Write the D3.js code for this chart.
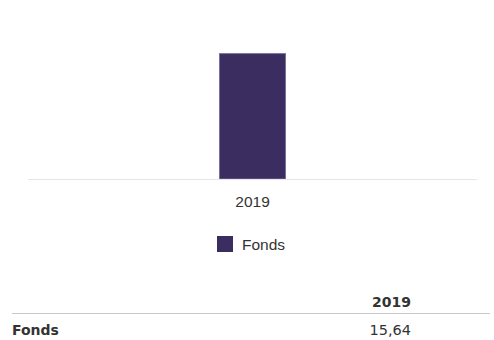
<!DOCTYPE html>
<html>
<head>
<meta charset="utf-8">
<script src="https://cdn.jsdelivr.net/npm/d3@7"></script>
<style>
  html, body { margin: 0; padding: 0; background: #fff; }
  svg { display: block; }
</style>
</head>
<body>
<div id="chart"></div>
<script>
// Chart data
const categories = ["2019"];
const seriesNames = ["Fonds"];
const fondsValues = [15.64];
const yDomain = [0, 20];

const W = 494, H = 340;
const barColor = "#3b2d5f";
const textColor = "#333333";
const fmt = v => d3.format(".2f")(v).replace(".", ",");

const svg = d3.select("#chart").append("svg")
  .attr("width", W).attr("height", H);

const plot = { left: 28, right: 477, top: 18, bottom: 179 };

const x = d3.scaleBand()
  .domain(categories)
  .range([plot.left, plot.right])
  .paddingInner(0)
  .paddingOuter(2.85);

const y = d3.scaleLinear().domain(yDomain).range([plot.bottom, plot.top]);

// Bars
svg.append("g").selectAll("rect")
  .data(categories.map((c, i) => ({ c, v: fondsValues[i] })))
  .join("rect")
  .attr("x", d => x(d.c) + 0.5)
  .attr("y", d => y(d.v) + 0.5)
  .attr("width", x.bandwidth() - 1)
  .attr("height", d => y(0) - y(d.v) - 0.5)
  .attr("fill", barColor)
  .attr("stroke", "#7b6fa0")
  .attr("stroke-width", 1);

// Category axis (baseline + labels)
const xAxis = svg.append("g")
  .attr("transform", `translate(0,${plot.bottom})`)
  .call(d3.axisBottom(x).tickSize(0).tickPadding(0));
xAxis.select(".domain").attr("stroke", "#e6e6e6").attr("stroke-width", 1)
  .attr("d", `M${plot.left},0.5H${plot.right}`);
xAxis.selectAll("text")
  .attr("dy", null)
  .attr("y", 28)
  .attr("fill", textColor)
  .style("font-family", "'Liberation Sans', Arial, sans-serif")
  .style("font-size", "15.5px");

// Legend
const legend = svg.append("g").attr("transform", "translate(217,236)");
seriesNames.forEach((name, i) => {
  legend.append("rect").attr("x", 0).attr("y", 0)
    .attr("width", 16).attr("height", 16).attr("fill", barColor);
  legend.append("text").attr("x", 25).attr("y", 14)
    .attr("fill", textColor)
    .style("font-family", "'Liberation Sans', Arial, sans-serif")
    .style("font-size", "15.5px")
    .text(name);
});

// Data table below the chart
const tableFont = "'DejaVu Sans', Verdana, sans-serif";
const colRight = 411;
const table = svg.append("g");
categories.forEach((c, j) => {
  table.append("text").attr("x", colRight).attr("y", 306.5)
    .attr("text-anchor", "end").attr("fill", textColor)
    .style("font-family", tableFont).style("font-weight", "bold")
    .style("font-size", "14px").text(c);
});
table.append("line")
  .attr("x1", 12).attr("x2", 490).attr("y1", 313.5).attr("y2", 313.5)
  .attr("stroke", "#c8c8c8").attr("stroke-width", 1);
seriesNames.forEach((name, i) => {
  table.append("text").attr("x", 12).attr("y", 335)
    .attr("fill", textColor)
    .style("font-family", tableFont).style("font-weight", "bold")
    .style("font-size", "14px").text(name);
  categories.forEach((c, j) => {
    table.append("text").attr("x", colRight).attr("y", 335)
      .attr("text-anchor", "end").attr("fill", textColor)
      .style("font-family", tableFont)
      .style("font-size", "14.5px").text(fmt(fondsValues[j]));
  });
});
</script>
</body>
</html>
